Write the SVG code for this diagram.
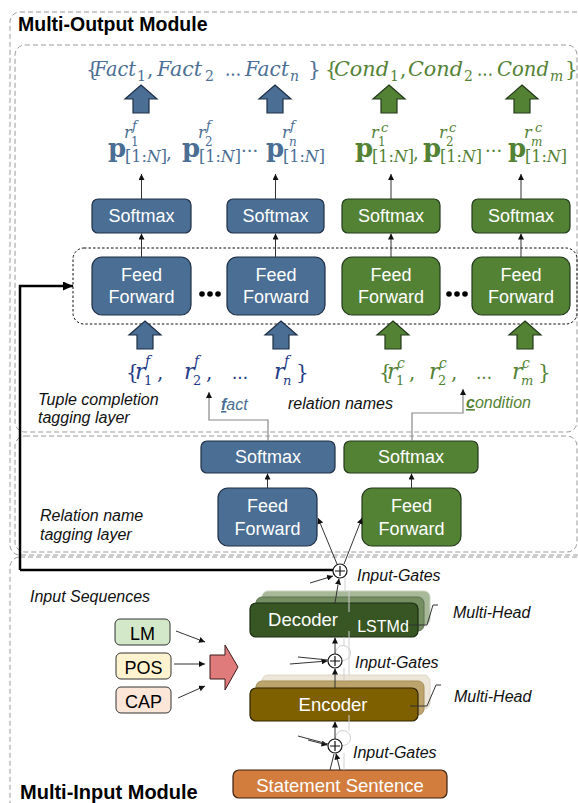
<svg xmlns="http://www.w3.org/2000/svg" xmlns:xlink="http://www.w3.org/1999/xlink" width="578" height="803" viewBox="0 0 578 803">
<defs>
<style>
.dash{fill:none;stroke:#9a9a9a;stroke-width:1;stroke-dasharray:5 3}
.bl{fill:#4a6e94;stroke:#1e2f45;stroke-width:1.2}
.gr{fill:#548235;stroke:#23391a;stroke-width:1.2}
.wt{fill:#fff;font-family:"Liberation Sans",Arial,sans-serif;font-size:18px;text-anchor:middle}
.lab{font-family:"Liberation Sans",Arial,sans-serif;font-size:16px;font-style:italic;fill:#111}
.ttl{font-family:"Liberation Sans",Arial,sans-serif;font-size:19.5px;font-weight:bold;fill:#000}
.m{font-family:"DejaVu Serif","Liberation Serif",serif}
.cb{fill:#4a6e94}
.cg{fill:#548235}
.cn{fill:#1f3c88}
.ln{stroke:#333;stroke-width:1;fill:none}
.lg{stroke:#888;stroke-width:1.2;fill:none}
.fa{stroke:#cfcfcf;stroke-width:1;fill:none}
.ua{stroke-width:1.2}
</style>
<marker id="ah" markerWidth="6" markerHeight="6" refX="6" refY="3" orient="auto" markerUnits="userSpaceOnUse"><path d="M0,0 L6,3 L0,6 z" fill="#111"/></marker>
<marker id="ahT" markerWidth="10" markerHeight="9" refX="10" refY="4.5" orient="auto" markerUnits="userSpaceOnUse"><path d="M0,0 L10,4.5 L0,9 z" fill="#000"/></marker>
<path id="up" d="M0,0 L16,14 L8,14 L8,28 L-8,28 L-8,14 L-16,14 Z"/>
</defs>

<!-- module frames -->
<g id="frames">
<rect class="dash" x="10" y="12" width="610" height="543" rx="10"/>
<rect class="dash" x="15" y="45" width="562" height="387" rx="10"/>
<rect class="dash" x="15" y="436" width="562" height="116" rx="10"/>
<rect class="dash" x="10" y="557" width="610" height="270" rx="10"/>
<rect x="73" y="248" width="504" height="76" rx="11" fill="none" stroke="#111" stroke-width="1" stroke-dasharray="2.5 2"/>
<text class="ttl" x="18" y="31">Multi-Output Module</text>
<text class="ttl" x="20" y="799" style="font-size:20px">Multi-Input Module</text>
</g>

<!-- outputs -->
<g id="fact-set" class="m cb" font-size="20" font-style="italic">
<text x="86" y="76" font-style="normal">{</text>
<text x="94" y="76" textLength="42" lengthAdjust="spacingAndGlyphs">Fact</text>
<text x="137" y="81" font-size="14" font-style="normal">1</text>
<text x="147" y="76" font-style="normal">,</text>
<text x="157" y="76" textLength="45" lengthAdjust="spacingAndGlyphs">Fact</text>
<text x="205" y="81" font-size="14" font-style="normal">2</text>
<text x="225" y="76" font-style="normal" textLength="16" lengthAdjust="spacingAndGlyphs">...</text>
<text x="245" y="76" textLength="44" lengthAdjust="spacingAndGlyphs">Fact</text>
<text x="290" y="81" font-size="14">n</text>
<text x="308" y="76" font-style="normal">}</text>
</g>
<g id="cond-set" class="m cg" font-size="20" font-style="italic">
<text x="325" y="76" font-style="normal">{</text>
<text x="334" y="76" textLength="55" lengthAdjust="spacingAndGlyphs">Cond</text>
<text x="390" y="81" font-size="14" font-style="normal">1</text>
<text x="400" y="76" font-style="normal">,</text>
<text x="408" y="76" textLength="55" lengthAdjust="spacingAndGlyphs">Cond</text>
<text x="464" y="81" font-size="14" font-style="normal">2</text>
<text x="477" y="76" font-style="normal" textLength="16" lengthAdjust="spacingAndGlyphs">...</text>
<text x="497" y="76" textLength="52" lengthAdjust="spacingAndGlyphs">Cond</text>
<text x="550" y="81" font-size="14">m</text>
<text x="565" y="76" font-style="normal">}</text>
</g>

<g id="out-arrows">
<use xlink:href="#up" x="141" y="85" class="bl ua"/>
<use xlink:href="#up" x="275" y="85" class="bl ua"/>
<use xlink:href="#up" x="389" y="85" class="gr ua"/>
<use xlink:href="#up" x="522" y="85" class="gr ua"/>
</g>

<!-- probability vectors -->
<g id="p-blue" class="m cb">
<text x="108" y="157" font-size="26" font-weight="bold">p</text>
<text x="125" y="162" font-size="16">[1:<tspan font-style="italic">N</tspan>]</text>
<text x="124" y="138" font-size="16" font-style="italic">r</text>
<text x="131" y="146" font-size="12">1</text>
<text x="132" y="130" font-size="13" font-style="italic">f</text>
<text x="166" y="159" font-size="18">,</text>
<text x="182" y="157" font-size="26" font-weight="bold">p</text>
<text x="199" y="162" font-size="16">[1:<tspan font-style="italic">N</tspan>]</text>
<text x="198" y="138" font-size="16" font-style="italic">r</text>
<text x="205" y="146" font-size="12">2</text>
<text x="206" y="130" font-size="13" font-style="italic">f</text>
<text x="241" y="157" font-size="18">···</text>
<text x="266" y="157" font-size="26" font-weight="bold">p</text>
<text x="283" y="162" font-size="16">[1:<tspan font-style="italic">N</tspan>]</text>
<text x="282" y="138" font-size="16" font-style="italic">r</text>
<text x="289" y="146" font-size="12" font-style="italic">n</text>
<text x="290" y="130" font-size="13" font-style="italic">f</text>
</g>
<g id="p-green" class="m cg">
<text x="355" y="157" font-size="26" font-weight="bold">p</text>
<text x="372" y="162" font-size="16">[1:<tspan font-style="italic">N</tspan>]</text>
<text x="371" y="138" font-size="16" font-style="italic">r</text>
<text x="378" y="146" font-size="12">1</text>
<text x="381" y="132" font-size="13" font-style="italic">c</text>
<text x="413" y="159" font-size="18">,</text>
<text x="423" y="157" font-size="26" font-weight="bold">p</text>
<text x="440" y="162" font-size="16">[1:<tspan font-style="italic">N</tspan>]</text>
<text x="439" y="138" font-size="16" font-style="italic">r</text>
<text x="446" y="146" font-size="12">2</text>
<text x="449" y="132" font-size="13" font-style="italic">c</text>
<text x="485" y="157" font-size="18">···</text>
<text x="508" y="157" font-size="26" font-weight="bold">p</text>
<text x="525" y="162" font-size="16">[1:<tspan font-style="italic">N</tspan>]</text>
<text x="524" y="138" font-size="16" font-style="italic">r</text>
<text x="531" y="146" font-size="12" font-style="italic">m</text>
<text x="535" y="132" font-size="13" font-style="italic">c</text>
</g>

<!-- tuple completion softmax -->
<g id="sm-f1"><rect class="bl" x="92" y="199" width="99" height="34" rx="6"/><text class="wt" x="141.5" y="222">Softmax</text></g>
<g id="sm-fn"><rect class="bl" x="227" y="199" width="97" height="34" rx="6"/><text class="wt" x="275.5" y="222">Softmax</text></g>
<g id="sm-c1"><rect class="gr" x="342" y="199" width="98" height="34" rx="6"/><text class="wt" x="391" y="222">Softmax</text></g>
<g id="sm-cm"><rect class="gr" x="472" y="199" width="98" height="34" rx="6"/><text class="wt" x="521" y="222">Softmax</text></g>

<!-- tuple completion feed forward -->
<g id="ff-f1"><rect class="bl" x="92" y="257" width="99" height="58" rx="10"/><text class="wt" x="141.5" y="281">Feed</text><text class="wt" x="141.5" y="303">Forward</text></g>
<g id="ff-fn"><rect class="bl" x="227" y="257" width="98" height="58" rx="10"/><text class="wt" x="276" y="281">Feed</text><text class="wt" x="276" y="303">Forward</text></g>
<g id="ff-c1"><rect class="gr" x="342" y="257" width="98" height="58" rx="10"/><text class="wt" x="391" y="281">Feed</text><text class="wt" x="391" y="303">Forward</text></g>
<g id="ff-cm"><rect class="gr" x="472" y="257" width="98" height="58" rx="10"/><text class="wt" x="521" y="281">Feed</text><text class="wt" x="521" y="303">Forward</text></g>
<g id="dots" fill="#000">
<circle cx="202" cy="294" r="2.8"/><circle cx="210" cy="294" r="2.8"/><circle cx="218" cy="294" r="2.8"/>
<circle cx="449" cy="294" r="2.8"/><circle cx="457" cy="294" r="2.8"/><circle cx="465" cy="294" r="2.8"/>
</g>

<g id="in-arrows">
<use xlink:href="#up" x="145" y="321" class="bl ua"/>
<use xlink:href="#up" x="281" y="321" class="bl ua"/>
<use xlink:href="#up" x="393" y="321" class="gr ua"/>
<use xlink:href="#up" x="525" y="321" class="gr ua"/>
</g>

<!-- relation names -->
<g id="rel-fact" class="m cn">
<text x="126" y="379" font-size="20">{</text>
<text x="135" y="379" font-size="22" font-style="italic">r</text>
<text x="145" y="366" font-size="14" font-style="italic">f</text>
<text x="144" y="385" font-size="13">1</text>
<text x="157" y="379" font-size="20">,</text>
<text x="184" y="379" font-size="22" font-style="italic">r</text>
<text x="194" y="366" font-size="14" font-style="italic">f</text>
<text x="193" y="385" font-size="13">2</text>
<text x="206" y="379" font-size="20">,</text>
<text x="232" y="379" font-size="18" textLength="16" lengthAdjust="spacingAndGlyphs">...</text>
<text x="274" y="379" font-size="22" font-style="italic">r</text>
<text x="284" y="366" font-size="14" font-style="italic">f</text>
<text x="283" y="385" font-size="13" font-style="italic">n</text>
<text x="296" y="379" font-size="20">}</text>
</g>
<g id="rel-cond" class="m cg">
<text x="379" y="379" font-size="20">{</text>
<text x="387" y="379" font-size="22" font-style="italic">r</text>
<text x="397" y="368" font-size="14" font-style="italic">c</text>
<text x="396" y="385" font-size="13">1</text>
<text x="409" y="379" font-size="20">,</text>
<text x="429" y="379" font-size="22" font-style="italic">r</text>
<text x="439" y="368" font-size="14" font-style="italic">c</text>
<text x="438" y="385" font-size="13">2</text>
<text x="451" y="379" font-size="20">,</text>
<text x="476" y="379" font-size="18" textLength="16" lengthAdjust="spacingAndGlyphs">...</text>
<text x="512" y="379" font-size="22" font-style="italic">r</text>
<text x="522" y="368" font-size="14" font-style="italic">c</text>
<text x="521" y="385" font-size="13" font-style="italic">m</text>
<text x="538" y="379" font-size="20">}</text>
</g>

<g id="labels">
<text class="lab" x="38" y="405">Tuple completion</text>
<text class="lab" x="38" y="423">tagging layer</text>
<text class="lab" x="288" y="409">relation names</text>
<text class="lab" x="40" y="521">Relation name</text>
<text class="lab" x="40" y="540">tagging layer</text>
<text class="lab" x="30" y="602">Input Sequences</text>
<text class="lab" x="221" y="410" style="fill:#4a6e94"><tspan font-weight="bold" text-decoration="underline">f</tspan>act</text>
<text class="lab" x="466" y="408" style="fill:#548235"><tspan font-weight="bold" text-decoration="underline">c</tspan>ondition</text>
<text class="lab" x="357" y="581">Input-Gates</text>
<text class="lab" x="355" y="668">Input-Gates</text>
<text class="lab" x="353" y="758">Input-Gates</text>
<text class="lab" x="453" y="618">Multi-Head</text>
<text class="lab" x="454" y="702">Multi-Head</text>
</g>

<!-- relation name tagging layer -->
<g id="rsm-f"><rect class="bl" x="201" y="441" width="134" height="32" rx="6"/><text class="wt" x="268" y="463">Softmax</text></g>
<g id="rsm-c"><rect class="gr" x="344" y="441" width="134" height="32" rx="6"/><text class="wt" x="411" y="463">Softmax</text></g>
<g id="rff-f"><rect class="bl" x="218" y="488" width="99" height="58" rx="10"/><text class="wt" x="267.5" y="512">Feed</text><text class="wt" x="267.5" y="535">Forward</text></g>
<g id="rff-c"><rect class="gr" x="362" y="488" width="99" height="58" rx="10"/><text class="wt" x="411.5" y="512">Feed</text><text class="wt" x="411.5" y="535">Forward</text></g>

<!-- input sequences -->
<g id="lm"><rect x="115" y="619" width="55" height="26" rx="5" fill="#d3e8c8" stroke="#333"/><text x="142.5" y="640" font-family="Liberation Sans,Arial,sans-serif" font-size="18" text-anchor="middle">LM</text></g>
<g id="pos"><rect x="116" y="653" width="55" height="26" rx="5" fill="#fef3cf" stroke="#333"/><text x="143.5" y="674" font-family="Liberation Sans,Arial,sans-serif" font-size="18" text-anchor="middle">POS</text></g>
<g id="cap"><rect x="116" y="687" width="55" height="26" rx="5" fill="#fbe6d8" stroke="#333"/><text x="143.5" y="708" font-family="Liberation Sans,Arial,sans-serif" font-size="18" text-anchor="middle">CAP</text></g>
<g id="merge"><path d="M210,655 L225,655 L225,645 L238,667 L225,690 L225,679 L210,679 Z" fill="#e07b7b" stroke="#3a1a1a" stroke-width="1"/></g>

<!-- decoder stack -->
<g id="decoder">
<rect x="262" y="591" width="168" height="34" rx="6" fill="#a8b99a" stroke="#c9d3c0"/>
<rect x="256" y="597" width="168" height="34" rx="6" fill="#758f63" stroke="#5c7350"/>
<rect x="250" y="603" width="168" height="34" rx="6" fill="#375623" stroke="#1c2c12" stroke-width="1.2"/>
<text class="wt" x="303" y="626" style="font-size:18.5px">Decoder</text>
<text class="wt" x="383" y="632" style="font-size:16px">LSTMd</text>
</g>
<!-- encoder stack -->
<g id="encoder">
<rect x="262" y="675" width="168" height="34" rx="6" fill="#ebe6d8" stroke="#dcd6c4"/>
<rect x="256" y="681" width="168" height="34" rx="6" fill="#bda46c" stroke="#a58d58"/>
<rect x="250" y="688" width="168" height="33" rx="6" fill="#7f6000" stroke="#2e2300" stroke-width="1.2"/>
<text class="wt" x="333" y="711" style="font-size:18.5px">Encoder</text>
</g>
<g id="statement"><rect x="233" y="770" width="214" height="28" rx="6" fill="#d27c3d" stroke="#3a2010" stroke-width="1.2"/><text class="wt" x="340" y="792" style="font-size:18.5px">Statement Sentence</text></g>

<!-- gates -->
<g id="gate-top"><circle cx="340" cy="571" r="7" fill="#fff" stroke="#111" stroke-width="1.2"/><path d="M335,571 H345 M340,566 V576" stroke="#111" stroke-width="1.2"/></g>
<g id="gate-mid"><circle cx="343" cy="653" r="7.5" class="fa"/><circle cx="335" cy="661" r="7" fill="#fff" stroke="#111" stroke-width="1.2"/><path d="M330,661 H340 M335,656 V666" stroke="#111" stroke-width="1.2"/></g>
<g id="gate-bot"><circle cx="343" cy="738" r="7.5" class="fa"/><circle cx="335" cy="746" r="7" fill="#fff" stroke="#111" stroke-width="1.2"/><path d="M330,746 H340 M335,741 V751" stroke="#111" stroke-width="1.2"/></g>

<!-- connectors -->
<g id="connectors">
<path class="ln" marker-end="url(#ah)" d="M141.5,199 V174"/>
<path class="ln" marker-end="url(#ah)" d="M275.5,199 V174"/>
<path class="ln" marker-end="url(#ah)" d="M391,199 V174"/>
<path class="ln" marker-end="url(#ah)" d="M521,199 V174"/>
<path class="ln" marker-end="url(#ah)" d="M141.5,257 V233.5"/>
<path class="ln" marker-end="url(#ah)" d="M275.5,257 V233.5"/>
<path class="ln" marker-end="url(#ah)" d="M391,257 V233.5"/>
<path class="ln" marker-end="url(#ah)" d="M521,257 V233.5"/>
<path class="ln" marker-end="url(#ah)" d="M267.5,488 V473.5"/>
<path class="ln" marker-end="url(#ah)" d="M411.5,488 V473.5"/>
<path class="lg" marker-end="url(#ah)" d="M268,441 V420 H209 V392"/>
<path class="lg" marker-end="url(#ah)" d="M412,441 V413 H463 V389"/>
<path class="ln" marker-end="url(#ah)" d="M337,564 L318,518"/>
<path class="ln" marker-end="url(#ah)" d="M344,564 L362,518"/>
<path d="M20,570 V286 H73" fill="none" stroke="#000" stroke-width="2.5" marker-end="url(#ahT)"/>
<path d="M20,570 H333" fill="none" stroke="#000" stroke-width="2.5"/>
<path class="fa" d="M345,577 V592 M349,591 V612 M344,637 V646 M349,631 V675 M344,668 V681 M349,715 V731 M344,753 V770"/>
<path class="ln" marker-end="url(#ah)" d="M310,583 L333,576"/>
<path class="ln" marker-end="url(#ah)" d="M335,603 L339,578.5"/>
<path class="ln" marker-end="url(#ah)" d="M335,654 V637.5"/>
<path class="ln" marker-end="url(#ah)" d="M335,688 V668.5"/>
<path class="ln" marker-end="url(#ah)" d="M290,664 L327.5,661"/>
<path class="ln" d="M298,657 L328,660" stroke="#888"/>
<path class="ln" marker-end="url(#ah)" d="M335,739 V721.5"/>
<path class="ln" marker-end="url(#ah)" d="M308,740 L327.5,745"/>
<path class="ln" d="M298,736 L328,744" stroke="#888"/>
<path class="ln" marker-end="url(#ah)" d="M340,770 L336,753.5"/>
<path class="ln" d="M330,770 L334,754" stroke="#666"/>
<path class="ln" marker-end="url(#ah)" d="M176,631 L205,642"/>
<path class="ln" marker-end="url(#ah)" d="M174,664 L205,664"/>
<path class="ln" marker-end="url(#ah)" d="M178,698 L205,686"/>
<path class="ln" d="M408,625 H427 L433,605 H438"/>
<path class="ln" d="M410,706 H427 L436,685 H441"/>
</g>
</svg>
